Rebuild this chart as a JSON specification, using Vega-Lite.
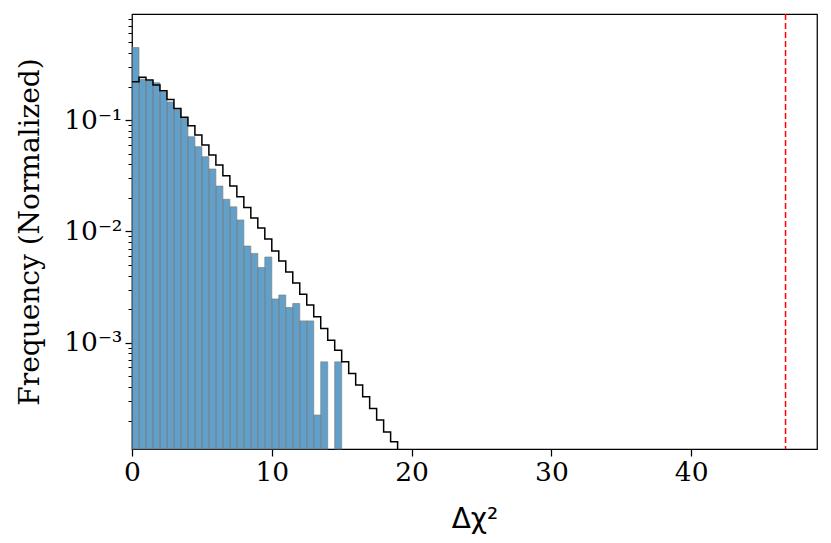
{
  "$schema": "https://vega.github.io/schema/vega-lite/v6.json",
  "width": 685,
  "height": 435,
  "autosize": {"type": "none"},
  "padding": {"left": 132, "top": 14, "right": 14, "bottom": 94},
  "background": "white",
  "config": {
    "view": {"stroke": "black", "strokeWidth": 1.25},
    "font": "DejaVu Serif",
    "axis": {"grid": false, "domain": false, "tickColor": "black", "labelColor": "black", "titleColor": "black", "labelFont": "DejaVu Serif", "titleFont": "DejaVu Serif", "titleFontWeight": "normal"}
  },
  "datasets": {
    "hist": [
      {"lo": 0.0, "hi": 0.5, "freq": 0.448},
      {"lo": 0.5, "hi": 1.0, "freq": 0.233},
      {"lo": 1.0, "hi": 1.5, "freq": 0.224},
      {"lo": 1.5, "hi": 2.0, "freq": 0.216},
      {"lo": 2.0, "hi": 2.5, "freq": 0.179},
      {"lo": 2.5, "hi": 3.0, "freq": 0.145},
      {"lo": 3.0, "hi": 3.5, "freq": 0.124},
      {"lo": 3.5, "hi": 4.0, "freq": 0.1036},
      {"lo": 4.0, "hi": 4.5, "freq": 0.0708},
      {"lo": 4.5, "hi": 5.0, "freq": 0.0576},
      {"lo": 5.0, "hi": 5.5, "freq": 0.0468},
      {"lo": 5.5, "hi": 6.0, "freq": 0.0363},
      {"lo": 6.0, "hi": 6.5, "freq": 0.0255},
      {"lo": 6.5, "hi": 7.0, "freq": 0.0194},
      {"lo": 7.0, "hi": 7.5, "freq": 0.0166},
      {"lo": 7.5, "hi": 8.0, "freq": 0.01265},
      {"lo": 8.0, "hi": 8.5, "freq": 0.00738},
      {"lo": 8.5, "hi": 9.0, "freq": 0.00634},
      {"lo": 9.0, "hi": 9.5, "freq": 0.00473},
      {"lo": 9.5, "hi": 10.0, "freq": 0.00588},
      {"lo": 10.0, "hi": 10.5, "freq": 0.00247},
      {"lo": 10.5, "hi": 11.0, "freq": 0.00268},
      {"lo": 11.0, "hi": 11.5, "freq": 0.00207},
      {"lo": 11.5, "hi": 12.0, "freq": 0.00225},
      {"lo": 12.0, "hi": 12.5, "freq": 0.00157},
      {"lo": 12.5, "hi": 13.0, "freq": 0.00157},
      {"lo": 13.0, "hi": 13.5, "freq": 0.000224},
      {"lo": 13.5, "hi": 14.0, "freq": 0.000673},
      {"lo": 14.5, "hi": 15.0, "freq": 0.000673}
    ],
    "ref": [
      {"x": 0.0, "f": 0.221},
      {"x": 0.5, "f": 0.242},
      {"x": 1.0, "f": 0.229},
      {"x": 1.5, "f": 0.206},
      {"x": 2.0, "f": 0.183},
      {"x": 2.5, "f": 0.153},
      {"x": 3.0, "f": 0.127},
      {"x": 3.5, "f": 0.106},
      {"x": 4.0, "f": 0.0889},
      {"x": 4.5, "f": 0.0733},
      {"x": 5.0, "f": 0.0596},
      {"x": 5.5, "f": 0.0485},
      {"x": 6.0, "f": 0.0394},
      {"x": 6.5, "f": 0.0316},
      {"x": 7.0, "f": 0.0255},
      {"x": 7.5, "f": 0.0205},
      {"x": 8.0, "f": 0.0164},
      {"x": 8.5, "f": 0.0132},
      {"x": 9.0, "f": 0.0107},
      {"x": 9.5, "f": 0.00853},
      {"x": 10.0, "f": 0.00665},
      {"x": 10.5, "f": 0.00541},
      {"x": 11.0, "f": 0.00431},
      {"x": 11.5, "f": 0.00343},
      {"x": 12.0, "f": 0.00273},
      {"x": 12.5, "f": 0.00218},
      {"x": 13.0, "f": 0.00171},
      {"x": 13.5, "f": 0.00134},
      {"x": 14.0, "f": 0.00105},
      {"x": 14.5, "f": 0.000857},
      {"x": 15.0, "f": 0.000673},
      {"x": 15.5, "f": 0.000529},
      {"x": 16.0, "f": 0.000416},
      {"x": 16.5, "f": 0.000327},
      {"x": 17.0, "f": 0.000257},
      {"x": 17.5, "f": 0.000202},
      {"x": 18.0, "f": 0.000158},
      {"x": 18.5, "f": 0.000129},
      {"x": 19.0, "f": 0.000111}
    ],
    "obs": [{"dchi2": 46.75}]
  },
  "layer": [
    {
      "data": {"name": "hist"},
      "mark": {"type": "bar", "fill": "#1f77b4", "fillOpacity": 0.7, "stroke": "gray", "strokeOpacity": 0.7, "strokeWidth": 1},
      "encoding": {
        "x": {
          "field": "lo", "type": "quantitative",
          "scale": {"domain": [0, 49], "nice": false, "zero": false},
          "axis": {"values": [0, 10, 20, 30, 40], "tickSize": 7, "tickWidth": 1.25, "labelFontSize": 26.5, "labelPadding": 3, "labelFlush": false, "title": "Δχ²", "titleFont": "DejaVu Sans", "titleFontSize": 28, "titleFontWeight": "normal", "titleX": 342.5, "titleY": 78, "titleBaseline": "alphabetic"}
        },
        "x2": {"field": "hi"},
        "y": {
          "field": "freq", "type": "quantitative",
          "scale": {"type": "log", "domain": [0.000111, 0.896], "nice": false},
          "axis": {"orient": "left", "values": [0.1, 0.01, 0.001], "labelExpr": "datum.value > 0.05 ? '10⁻¹' : datum.value > 0.005 ? '10⁻²' : '10⁻³'", "tickSize": 7, "tickWidth": 1.25, "labelFontSize": 26.5, "labelPadding": 3, "title": "Frequency (Normalized)", "titleFontSize": 28, "titleX": -94, "titleY": 217.5, "titleBaseline": "alphabetic"}
        },
        "y2": {"datum": 0.000111}
      }
    },
    {
      "data": {"name": "ref"},
      "mark": {"type": "line", "interpolate": "step-after", "color": "black", "strokeWidth": 1.5},
      "encoding": {
        "x": {"field": "x", "type": "quantitative"},
        "y": {
          "field": "f", "type": "quantitative",
          "axis": {"orient": "left", "values": [0.8, 0.7, 0.6, 0.5, 0.4, 0.3, 0.2, 0.09, 0.08, 0.07, 0.06, 0.05, 0.04, 0.03, 0.02, 0.009, 0.008, 0.007, 0.006, 0.005, 0.004, 0.003, 0.002, 0.0009, 0.0008, 0.0007, 0.0006, 0.0005, 0.0004, 0.0003, 0.0002], "labels": false, "tickSize": 4, "tickWidth": 1, "title": null}
        }
      }
    },
    {
      "data": {"name": "obs"},
      "mark": {"type": "rule", "color": "red", "strokeWidth": 1.5, "strokeDash": [6, 3]},
      "encoding": {
        "x": {"field": "dchi2", "type": "quantitative"}
      }
    }
  ],
  "resolve": {"axis": {"y": "independent"}}
}
